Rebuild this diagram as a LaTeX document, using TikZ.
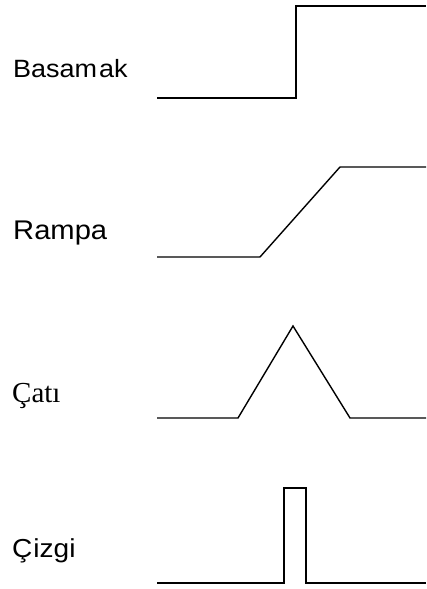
\documentclass[tikz,border=0pt]{standalone}
\usepackage{fontspec}
\setmainfont{Liberation Sans}
\newfontfamily\labsans[FakeStretch=1.08]{Liberation Sans}
\newfontfamily\labserif{Liberation Serif}
\begin{document}
\begin{tikzpicture}[x=1pt,y=1pt,
  lab/.style={anchor=base west, inner sep=0pt, font=\labsans\fontsize{25}{28}\selectfont},
  labs/.style={anchor=base west, inner sep=0pt, font=\labserif\fontsize{29}{32}\selectfont},
  wave/.style={line width=1.4pt, line join=miter, black}]
\useasboundingbox (0,0) rectangle (426,589);
% labels
\node[lab] (basamak) at (13,511) {Basam\hspace{2pt}ak};
\node[lab,font=\labsans\fontsize{27}{30}\selectfont] (rampa) at (13,349) {Rampa};
\node[labs] (cati) at (12,186) {Çatı};
\node[lab,font=\labsans\fontsize{26}{29}\selectfont] (cizgi) at (12,31) {Ç\hspace{1pt}izgi};
% Basamak (step)
\coordinate (s1) at (157,491);
\coordinate (s2) at (296,491);
\coordinate (s3) at (296,583);
\coordinate (s4) at (426,583);
\draw[wave] (s1) -- (s2) -- (s3) -- (s4);
% Rampa (ramp)
\coordinate (r1) at (157,332);
\coordinate (r2) at (260,332);
\coordinate (r3) at (340,422);
\coordinate (r4) at (426,422);
\draw[wave] (r1) -- (r2) -- (r3) -- (r4);
% Cati (roof)
\coordinate (c1) at (157,171);
\coordinate (c2) at (238,171);
\coordinate (c3) at (293,263);
\coordinate (c4) at (350,171);
\coordinate (c5) at (426,171);
\draw[wave] (c1) -- (c2) -- (c3) -- (c4) -- (c5);
% Cizgi (line / pulse)
\coordinate (p1) at (157,6);
\coordinate (p2) at (284,6);
\coordinate (p3) at (284,101);
\coordinate (p4) at (306,101);
\coordinate (p5) at (306,6);
\coordinate (p6) at (426,6);
\draw[wave] (p1) -- (p2) -- (p3) -- (p4) -- (p5) -- (p6);
\end{tikzpicture}
\end{document}
